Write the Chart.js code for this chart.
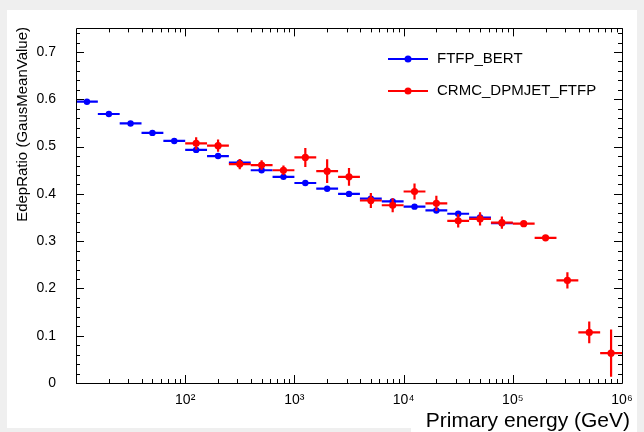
<!DOCTYPE html>
<html>
<head>
<meta charset="utf-8">
<script src="https://cdn.jsdelivr.net/npm/chart.js@4.4.0/dist/chart.umd.min.js"></script>
<style>
  html, body { margin: 0; padding: 0; background: #efefef; }
  #wrap { position: relative; width: 644px; height: 432px; }
</style>
</head>
<body>
<div id="wrap"><canvas id="edepChart" width="644" height="432"></canvas></div>
<script>
// energy bins (GeV): centres and edges, 5 bins per decade
const energies = [12.6, 20.0, 31.6, 50.1, 79.4, 126, 200, 316, 501, 794,
  1259, 1995, 3162, 5012, 7943, 12589, 19953, 31623, 50119, 79433,
  125893, 199526, 316228, 501187, 794328];
const binEdges = [10, 15.85, 25.12, 39.81, 63.10, 100, 158.5, 251.2, 398.1, 631.0,
  1000, 1585, 2512, 3981, 6310, 10000, 15849, 25119, 39811, 63096,
  100000, 158489, 251189, 398107, 630957, 1000000];

// FTFP_BERT, bins 0..19
const bertRatio = [0.595, 0.569, 0.549, 0.529, 0.512, 0.493, 0.480, 0.466, 0.450, 0.436,
  0.423, 0.411, 0.400, 0.390, 0.384, 0.373, 0.365, 0.358, 0.350, 0.338];
const bertErr = [0.002, 0.002, 0.002, 0.002, 0.002, 0.002, 0.002, 0.002, 0.002, 0.002,
  0.002, 0.002, 0.002, 0.002, 0.002, 0.002, 0.002, 0.002, 0.002, 0.002];

// CRMC_DPMJET_FTFP, bins 5..24
const dpmjetFirstBin = 5;
const dpmjetRatio = [0.507, 0.502, 0.463, 0.461, 0.450, 0.477, 0.448, 0.436, 0.386, 0.376,
  0.405, 0.380, 0.343, 0.347, 0.339, 0.337, 0.307, 0.217, 0.107, 0.063];
const dpmjetErr = [0.013, 0.013, 0.011, 0.010, 0.010, 0.020, 0.025, 0.019, 0.016, 0.015,
  0.017, 0.016, 0.014, 0.014, 0.013, 0.003, 0.003, 0.017, 0.023, 0.050];

const yTicks = [0, 0.1, 0.2, 0.3, 0.4, 0.5, 0.6, 0.7];
const xDecades = [100, 1000, 10000, 100000, 1000000];
const xDecadeLabels = ['10\u00b2', '10\u00b3', '10\u2074', '10\u2075', '10\u2076'];

const seriesNames = ['FTFP_BERT', 'CRMC_DPMJET_FTFP'];
const seriesColors = ['#0000ff', '#ff0000'];

function toPoints(values, errs, firstBin) {
  return values.map((v, i) => ({
    x: energies[firstBin + i],
    y: v,
    lo: binEdges[firstBin + i],
    hi: binEdges[firstBin + i + 1],
    err: errs[i]
  }));
}

const FONT = '"Liberation Sans", Arial, sans-serif';

// ROOT-like frame: inward ticks on all sides, error crosses, titles, legend
const rootStyle = {
  id: 'rootStyle',
  beforeDraw(chart) {
    const ctx = chart.ctx;
    ctx.save();
    ctx.fillStyle = '#efefef';
    ctx.fillRect(0, 0, chart.width, chart.height);
    ctx.fillStyle = '#ffffff';
    ctx.fillRect(7, 10, 630, 418);
    ctx.fillRect(411, 380, 226, 52);
    ctx.restore();
  },
  beforeDatasetDraw(chart, args) {
    const { ctx, scales: { x, y } } = chart;
    const ds = chart.data.datasets[args.index];
    ctx.save();
    ctx.strokeStyle = ds.borderColor;
    ctx.lineWidth = 2.2;
    ds.data.forEach(p => {
      const px = x.getPixelForValue(p.x);
      const py = y.getPixelForValue(p.y);
      ctx.beginPath();
      ctx.moveTo(x.getPixelForValue(p.lo), py);
      ctx.lineTo(x.getPixelForValue(p.hi), py);
      ctx.moveTo(px, y.getPixelForValue(p.y - p.err));
      ctx.lineTo(px, y.getPixelForValue(p.y + p.err));
      ctx.stroke();
    });
    ctx.restore();
  },
  afterDraw(chart) {
    const { ctx, chartArea: a, scales: { x, y } } = chart;
    ctx.save();
    ctx.strokeStyle = '#000';
    ctx.lineWidth = 1;
    ctx.beginPath();
    ctx.rect(Math.round(a.left) + 0.5, Math.round(a.top) + 0.5,
      Math.round(a.right - a.left), Math.round(a.bottom - a.top));
    ctx.stroke();

    // y ticks, major every 0.1 and minor every 0.02
    ctx.beginPath();
    for (let k = 0; k <= 37; k++) {
      const py = Math.round(y.getPixelForValue(k * 0.02)) + 0.5;
      const len = k % 5 === 0 ? 8 : 4;
      ctx.moveTo(a.left, py); ctx.lineTo(a.left + len, py);
      ctx.moveTo(a.right, py); ctx.lineTo(a.right - len, py);
    }
    // x ticks, decades and 2..9 in between
    for (let d = 10; d < 1000000; d *= 10) {
      for (let m = 1; m <= 10; m++) {
        if (m === 1 && d === 10) continue;
        const px = Math.round(x.getPixelForValue(m * d)) + 0.5;
        const len = m === 10 ? 8 : 4;
        ctx.moveTo(px, a.bottom); ctx.lineTo(px, a.bottom - len);
        ctx.moveTo(px, a.top); ctx.lineTo(px, a.top + len);
      }
    }
    ctx.stroke();

    // axis titles
    ctx.fillStyle = '#000';
    ctx.font = '21px ' + FONT;
    ctx.textAlign = 'right';
    ctx.textBaseline = 'alphabetic';
    ctx.fillText('Primary energy (GeV)', 630, 427);

    ctx.save();
    ctx.translate(23, 27);
    ctx.rotate(-Math.PI / 2);
    ctx.font = '15px ' + FONT;
    ctx.textAlign = 'right';
    ctx.textBaseline = 'middle';
    ctx.fillText('EdepRatio (GausMeanValue)', 0, 0);
    ctx.restore();

    // legend
    seriesNames.forEach((name, i) => {
      const ly = 59 + i * 32;
      ctx.strokeStyle = seriesColors[i];
      ctx.fillStyle = seriesColors[i];
      ctx.lineWidth = 2;
      ctx.beginPath();
      ctx.moveTo(388, ly); ctx.lineTo(428, ly);
      ctx.stroke();
      ctx.beginPath();
      ctx.arc(408, ly, 3.5, 0, Math.PI * 2);
      ctx.fill();
      ctx.fillStyle = '#000';
      ctx.font = '15px ' + FONT;
      ctx.textAlign = 'left';
      ctx.textBaseline = 'middle';
      ctx.fillText(name, 437, ly);
    });
    ctx.restore();
  }
};

new Chart(document.getElementById('edepChart'), {
  type: 'scatter',
  data: {
    datasets: [
      {
        label: seriesNames[0],
        data: toPoints(bertRatio, bertErr, 0),
        borderColor: seriesColors[0],
        backgroundColor: seriesColors[0],
        pointRadius: 3.2,
        pointBorderWidth: 0,
        order: 2
      },
      {
        label: seriesNames[1],
        data: toPoints(dpmjetRatio, dpmjetErr, dpmjetFirstBin),
        borderColor: seriesColors[1],
        backgroundColor: seriesColors[1],
        pointRadius: 3.6,
        pointBorderWidth: 0,
        order: 1
      }
    ]
  },
  options: {
    responsive: false,
    animation: false,
    layout: { padding: { top: 28, right: 22, left: 0, bottom: 0 } },
    plugins: {
      legend: { display: false },
      tooltip: { enabled: false }
    },
    scales: {
      x: {
        type: 'logarithmic',
        min: 10,
        max: 1000000,
        grid: { display: false, drawTicks: false },
        border: { display: false },
        afterBuildTicks: scale => { scale.ticks = xDecades.map(v => ({ value: v })); },
        afterFit: scale => { scale.height = 49; },
        ticks: {
          autoSkip: false,
          maxRotation: 0,
          padding: 9,
          color: '#000',
          font: { family: FONT, size: 14 },
          callback: (v, i) => xDecadeLabels[i]
        }
      },
      y: {
        min: 0,
        max: 0.75,
        grid: { display: false, drawTicks: false },
        border: { display: false },
        afterBuildTicks: scale => { scale.ticks = yTicks.map(v => ({ value: v })); },
        afterFit: scale => { scale.width = 76; },
        ticks: {
          padding: 20,
          color: '#000',
          font: { family: FONT, size: 14 },
          callback: v => (v === 0 ? '0' : v.toFixed(1))
        }
      }
    }
  },
  plugins: [rootStyle]
});
</script>
</body>
</html>
